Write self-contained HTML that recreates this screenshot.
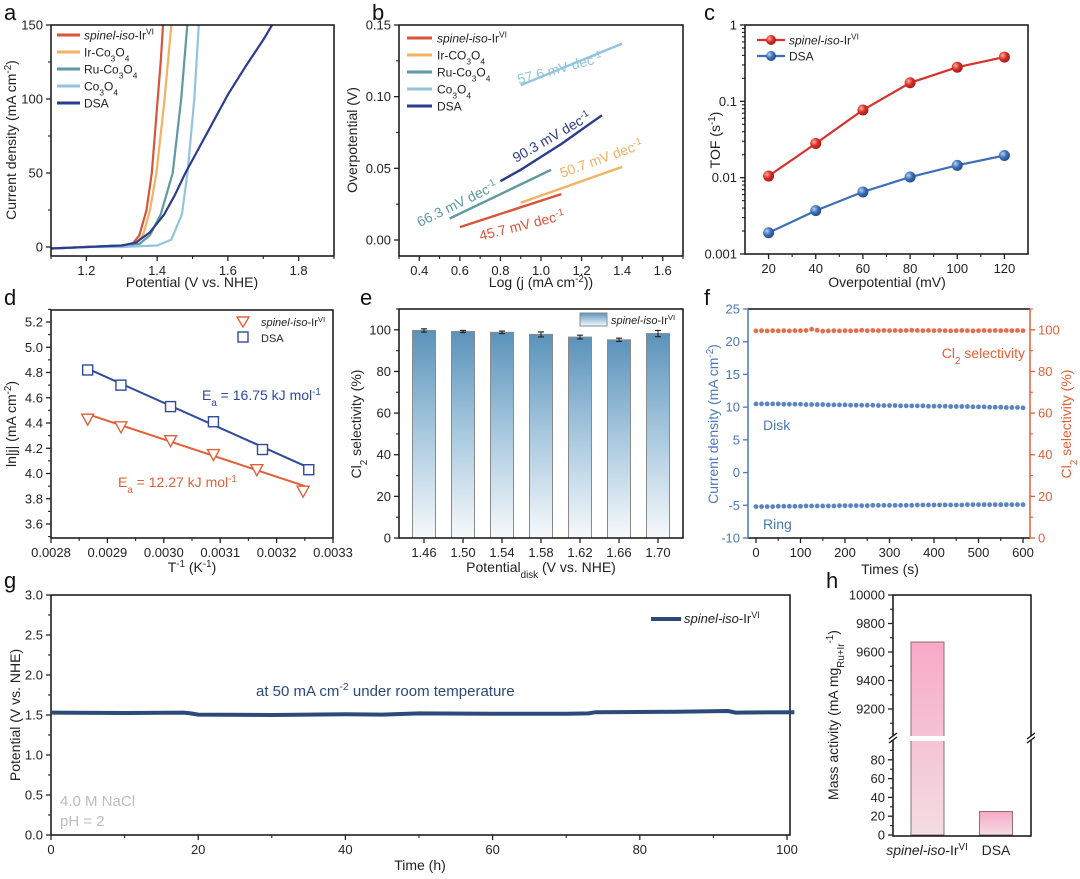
<!DOCTYPE html>
<html><head><meta charset="utf-8"><style>
html,body{margin:0;padding:0;background:#fff}
svg{display:block;font-family:"Liberation Sans",Arial,sans-serif}
</style></head><body>
<svg id="fig" width="1080" height="879" viewBox="0 0 1080 879" xmlns="http://www.w3.org/2000/svg">
<defs>
<clipPath id="clipA"><rect x="51" y="25" width="283" height="231"/></clipPath>
<linearGradient id="gradE" x1="0" y1="0" x2="0" y2="1"><stop offset="0" stop-color="#5b93bb"/><stop offset="0.5" stop-color="#a9c9df"/><stop offset="1" stop-color="#f6f9fc"/></linearGradient>
<linearGradient id="gradH" x1="0" y1="0" x2="0" y2="1"><stop offset="0" stop-color="#f8a9c8"/><stop offset="1" stop-color="#f3dde2"/></linearGradient>
<radialGradient id="ballR" cx="0.35" cy="0.35" r="0.7"><stop offset="0" stop-color="#ffb0a0"/><stop offset="0.5" stop-color="#d8302a"/><stop offset="1" stop-color="#a01a15"/></radialGradient>
<radialGradient id="ballB" cx="0.35" cy="0.35" r="0.7"><stop offset="0" stop-color="#b8d4f4"/><stop offset="0.5" stop-color="#3c6fb8"/><stop offset="1" stop-color="#234a88"/></radialGradient>
</defs>
<g id="pa"></g>
<g id="pb"></g>
<g id="pc"></g>
<g id="pd"></g>
<g id="pe"></g>
<g id="pf"></g>
<g id="pg"></g>
<g id="ph"></g>
<g font-size="22" fill="#111">
<text x="4" y="20">a</text>
<text x="372" y="20">b</text>
<text x="704" y="20">c</text>
<text x="4" y="305">d</text>
<text x="360" y="305">e</text>
<text x="704" y="305">f</text>
<text x="4" y="588">g</text>
<text x="826" y="588">h</text>
</g>
</svg>
<script>
// ---------- DATA ----------
// panel a (LSV)
const aSpinelX=[1.1,1.2,1.3,1.33,1.35,1.37,1.385,1.40,1.41,1.418];
const aSpinelY=[-1,0,1,2,8,25,50,95,125,155];
const aIrX=[1.1,1.2,1.3,1.34,1.36,1.38,1.398,1.421,1.442];
const aIrY=[-1,0,1,2,8,25,50,100,155];
const aRuX=[1.1,1.2,1.3,1.35,1.38,1.41,1.444,1.468,1.487];
const aRuY=[-1,0,1,2,8,22,50,100,155];
const aCoX=[1.1,1.2,1.3,1.4,1.44,1.47,1.486,1.505,1.519];
const aCoY=[-1,0,0,1,5,22,50,100,155];
const aDsaX=[1.1,1.2,1.3,1.34,1.38,1.42,1.45,1.48,1.53,1.6,1.65,1.7,1.73];
const aDsaY=[-1,0,1,3,10,22,35,50,72,103,122,140,152];
// panel b (Tafel)
const bSpinelX=[0.6,1.1], bSpinelY=[0.009,0.032];
const bIrX=[0.9,1.4], bIrY=[0.026,0.051];
const bRuX=[0.55,1.05], bRuY=[0.015,0.049];
const bCoX=[0.9,1.4], bCoY=[0.108,0.137];
const bDsaX=[0.8,0.9,1.0,1.1,1.2,1.3], bDsaY=[0.041,0.049,0.058,0.067,0.077,0.087];
// panel c (TOF)
const cX=[20,40,60,80,100,120];
const cSpinel=[0.0105,0.028,0.077,0.175,0.28,0.38];
const cDsa=[0.0019,0.0037,0.0065,0.0102,0.0145,0.0195];
// panel d (Arrhenius)
const dSpinelX=[0.002865,0.002924,0.003012,0.003088,0.003165,0.003247];
const dSpinelY=[4.43,4.37,4.26,4.15,4.03,3.86];
const dDsaX=[0.002865,0.002924,0.003012,0.003088,0.003175,0.003257];
const dDsaY=[4.82,4.70,4.53,4.41,4.19,4.03];
const dFitSpinelX=[0.002865,0.00325], dFitSpinelY=[4.47,3.90];
const dFitDsaX=[0.002865,0.00326], dFitDsaY=[4.83,4.04];
// panel e (Cl2 selectivity bars)
const eCats=["1.46","1.50","1.54","1.58","1.62","1.66","1.70"];
const eVals=[99.7,99.2,98.8,97.8,96.5,95.2,98.2];
const eErr=[0.8,0.5,0.6,1.2,0.9,0.8,1.5];
// panel f (RRDE stability), one point per 12.5 s
const fDisk=[10.5,10.5,10.5,10.5,10.5,10.45,10.45,10.45,10.45,10.4,10.4,10.4,10.4,10.35,10.35,10.35,10.35,10.3,10.3,10.3,10.3,10.3,10.25,10.25,10.25,10.25,10.2,10.2,10.2,10.2,10.2,10.15,10.15,10.15,10.15,10.1,10.1,10.1,10.1,10.05,10.05,10.05,10.0,10.0,10.0,9.95,9.95,9.95,9.9];
const fRing=[-5.2,-5.2,-5.2,-5.2,-5.15,-5.15,-5.15,-5.15,-5.15,-5.1,-5.1,-5.1,-5.1,-5.1,-5.1,-5.05,-5.05,-5.05,-5.05,-5.05,-5.05,-5.0,-5.0,-5.0,-5.0,-5.0,-5.0,-5.0,-5.0,-4.95,-4.95,-4.95,-4.95,-4.95,-4.95,-4.95,-4.95,-4.95,-4.9,-4.9,-4.9,-4.9,-4.9,-4.9,-4.9,-4.9,-4.9,-4.9,-4.9];
const fSel=[99.5,99.6,99.5,99.6,99.5,99.6,99.5,99.6,99.6,99.7,100.3,99.8,99.4,99.5,99.6,99.5,99.6,99.5,99.6,99.8,99.6,99.7,99.6,99.7,99.6,99.7,99.6,99.7,99.8,99.7,99.6,99.7,99.6,99.7,99.6,99.5,99.6,99.7,99.6,99.5,99.6,99.7,99.6,99.7,99.6,99.7,99.6,99.7,99.6];
// panel g (chronopotentiometry)
const gX=[0,10,18,19,20,30,40,45,50,60,70,73,74,85,92,93,101];
const gY=[1.53,1.525,1.53,1.52,1.505,1.5,1.51,1.505,1.52,1.515,1.515,1.52,1.535,1.54,1.55,1.53,1.535];
// panel h (mass activity)
const hCats=["spinel","DSA"];
const hVals=[9670,25];

// ---------- HELPERS ----------
const NS="http://www.w3.org/2000/svg";
function el(tag,attrs,parent){const e=document.createElementNS(NS,tag);for(const k in attrs)e.setAttribute(k,attrs[k]);parent.appendChild(e);return e;}
function lin(d0,d1,r0,r1){return v=>r0+(v-d0)*(r1-r0)/(d1-d0);}
function logs(d0,d1,r0,r1){const a=Math.log10(d0),b=Math.log10(d1);return v=>r0+(Math.log10(v)-a)*(r1-r0)/(b-a);}
function pathD(xs,ys,sx,sy){return xs.map((x,i)=>(i?'L':'M')+sx(x).toFixed(1)+','+sy(ys[i]).toFixed(1)).join(' ');}
function txt(parent,x,y,html,attrs){const e=el('text',Object.assign({x:x,y:y},attrs||{}),parent);e.innerHTML=html;return e;}
function frame(g,x0,y0,x1,y1,color){
  const r=el('rect',{x:x0,y:y0,width:x1-x0,height:y1-y0,fill:'none',stroke:color||'#111','stroke-width':1.5},g);
  
  
}
function axisX(g,sc,y,ticks,labels,minors,color){
  color=color||'#222';
  ticks.forEach((t,i)=>{
    const l=el('line',{x1:sc(t),x2:sc(t),y1:y,y2:y+5,stroke:color,'stroke-width':1.3},g);
    
    
    const tx=txt(g,sc(t),y+19,labels[i],{'text-anchor':'middle','font-size':13,fill:color});
    
    
  });
  minors.forEach(t=>{
    const l=el('line',{x1:sc(t),x2:sc(t),y1:y,y2:y+3,stroke:color,'stroke-width':1.1},g);
    
    
  });
}
function axisY(g,sc,x,ticks,labels,minors,side,color){
  color=color||'#222';side=side||-1;
  ticks.forEach((t,i)=>{
    const l=el('line',{x1:x,x2:x+5*side,y1:sc(t),y2:sc(t),stroke:color,'stroke-width':1.3},g);
    
    
    const tx=txt(g,x+8*side,sc(t)+4.5,labels[i],{'text-anchor':side<0?'end':'start','font-size':13,fill:color});
    
    
  });
  minors.forEach(t=>{
    const l=el('line',{x1:x,x2:x+3*side,y1:sc(t),y2:sc(t),stroke:color,'stroke-width':1.1},g);
    
    
  });
}
function title(g,x,y,html,rot,size,color){
  const t=txt(g,x,y,html,{'text-anchor':'middle','font-size':size||14,fill:color||'#222',transform:rot?`rotate(-90 ${x} ${y})`:''});
  
  
  return t;
}
function rng(a,b,s){const r=[];for(let v=a;v<=b+1e-9;v+=s)r.push(+v.toFixed(6));return r;}
const SUP=s=>`<tspan baseline-shift="super" font-size="70%">${s}</tspan>`;
const SUB=s=>`<tspan baseline-shift="sub" font-size="70%">${s}</tspan>`;
const SPIN=`<tspan font-style="italic">spinel-iso</tspan>-Ir${SUP('VI')}`;
const CO34=`Co${SUB('3')}O${SUB('4')}`;

// ---------- PANEL A ----------
(function(){
  const g=document.getElementById('pa');
  const sx=lin(1.1,1.9,51,334), sy=lin(0,150,247,25);
  const cg=el('g',{'clip-path':'url(#clipA)'},g);
  const series=[[aSpinelX,aSpinelY,'#d9553a','curve-spinel'],[aIrX,aIrY,'#f2b163','curve-ir-co3o4'],[aRuX,aRuY,'#5e9aa0','curve-ru-co3o4'],[aCoX,aCoY,'#93c3de','curve-co3o4'],[aDsaX,aDsaY,'#2c3c8c','curve-dsa']];
  series.forEach(s=>{
    const p=el('path',{d:pathD(s[0],s[1],sx,sy),fill:'none',stroke:s[2],'stroke-width':2.2,'stroke-linejoin':'round'},cg);
    
    
  });
  frame(g,51,25,334,256);
  axisX(g,sx,256,[1.2,1.4,1.6,1.8],['1.2','1.4','1.6','1.8'],[1.1,1.3,1.5,1.7,1.9]);
  axisY(g,sy,51,[0,50,100,150],['0','50','100','150'],[25,75,125]);
  title(g,192,287,'Potential (V vs. NHE)');
  title(g,16,140,`Current density (mA cm${SUP('-2')})`,true);
  const labs=[SPIN,`Ir-${CO34}`,`Ru-${CO34}`,CO34,'DSA'];
  series.forEach((s,i)=>{
    const y=35+17*i;
    const l=el('line',{x1:57,x2:80,y1:y,y2:y,stroke:s[2],'stroke-width':3},g);
    
    
    const t=txt(g,84,y+4.5,labs[i],{'font-size':12,fill:'#222'});
    
    
  });
})();

// ---------- PANEL B ----------
(function(){
  const g=document.getElementById('pb');
  const sx=lin(0.3,1.7,399,683), sy=lin(0,0.15,240,25);
  const series=[[bSpinelX,bSpinelY,'#d9553a','line-spinel'],[bIrX,bIrY,'#f2b163','line-ir-co3o4'],[bRuX,bRuY,'#5e9aa0','line-ru-co3o4'],[bCoX,bCoY,'#93c3de','line-co3o4'],[bDsaX,bDsaY,'#2c3c8c','line-dsa']];
  series.forEach(s=>{
    const p=el('path',{d:pathD(s[0],s[1],sx,sy),fill:'none',stroke:s[2],'stroke-width':2.4},g);
    
    
  });
  frame(g,399,25,683,256);
  axisX(g,sx,256,rng(0.4,1.6,0.2),['0.4','0.6','0.8','1.0','1.2','1.4','1.6'],rng(0.3,1.7,0.2));
  axisY(g,sy,399,[0,0.05,0.1,0.15],['0.00','0.05','0.10','0.15'],[0.025,0.075,0.125]);
  title(g,541,287,`Log (j (mA cm${SUP('-2')}))`);
  title(g,357,140,'Overpotential (V)',true);
  const labs=[SPIN,`Ir-CO${SUB('3')}O${SUB('4')}`,`Ru-${CO34}`,CO34,'DSA'];
  series.forEach((s,i)=>{
    const y=38+17*i;
    const l=el('line',{x1:407,x2:432,y1:y,y2:y,stroke:s[2],'stroke-width':3},g);
    
    
    const t=txt(g,437,y+4.5,labs[i],{'font-size':12,fill:'#222'});
    
    
  });
  const notes=[['57.6',561,73,-15,'#93c3de'],['90.3',554,141,-30,'#2c3c8c'],['50.7',603,163,-20,'#f2b163'],['66.3',459,208,-26,'#5e9aa0'],['45.7',523,230,-14,'#d9553a']];
  notes.forEach(n=>{
    const t=txt(g,n[1],n[2],`${n[0]} mV dec${SUP('-1')}`,{'text-anchor':'middle','font-size':14,fill:n[4],transform:`rotate(${n[3]} ${n[1]} ${n[2]})`});
    
    
  });
})();

// ---------- PANEL C ----------
(function(){
  const g=document.getElementById('pc');
  const sx=lin(10,130,745,1028), sy=logs(0.001,1,254,25);
  frame(g,745,25,1028,254);
  const minorsY=[];[0.001,0.01,0.1].forEach(d=>{for(let k=2;k<=9;k++)minorsY.push(d*k);});
  axisY(g,sy,745,[0.001,0.01,0.1,1],['0.001','0.01','0.1','1'],minorsY);
  axisX(g,sx,254,cX,cX.map(String),[30,50,70,90,110]);
  title(g,887,287,'Overpotential (mV)');
  title(g,720,140,`TOF (s${SUP('-1')})`,true);
  [[cSpinel,'#d8302a','url(#ballR)','spinel'],[cDsa,'#3c6fb8','url(#ballB)','dsa']].forEach(s=>{
    const p=el('path',{d:pathD(cX,s[0],sx,sy),fill:'none',stroke:s[1],'stroke-width':2.2},g);
    
    
    s[0].forEach((v,i)=>{
      const c=el('circle',{cx:sx(cX[i]),cy:sy(v),r:5.5,fill:s[2]},g);
      
      
    });
  });
  [[SPIN,'#d8302a','url(#ballR)',40],['DSA','#3c6fb8','url(#ballB)',56]].forEach(s=>{
    const l=el('line',{x1:757,x2:785,y1:s[3],y2:s[3],stroke:s[1],'stroke-width':2.2},g);
    
    
    const c=el('circle',{cx:771,cy:s[3],r:5,fill:s[2]},g);
    
    
    const t=txt(g,789,s[3]+4.5,s[0],{'font-size':12,fill:'#222'});
    
    
  });
})();

// ---------- PANEL D ----------
(function(){
  const g=document.getElementById('pd');
  const sx=lin(0.0028,0.0033,51,333), sy=lin(3.6,5.2,524,322);
  frame(g,51,310,333,538);
  axisX(g,sx,538,rng(0.0028,0.0033,0.0001),['0.0028','0.0029','0.0030','0.0031','0.0032','0.0033'],rng(0.00285,0.00325,0.0001));
  axisY(g,sy,51,rng(3.6,5.2,0.2),['3.6','3.8','4.0','4.2','4.4','4.6','4.8','5.0','5.2'],rng(3.5,5.3,0.2));
  title(g,192,572,`T${SUP('-1')} (K${SUP('-1')})`);
  title(g,16,424,`ln|j| (mA cm${SUP('-2')})`,true);
  const pb=el('path',{d:pathD(dFitDsaX,dFitDsaY,sx,sy),stroke:'#2f4a9a','stroke-width':2,fill:'none'},g);
  
  
  const pr=el('path',{d:pathD(dFitSpinelX,dFitSpinelY,sx,sy),stroke:'#e0603a','stroke-width':2,fill:'none'},g);
  
  
  dDsaX.forEach((x,i)=>{
    const r=el('rect',{x:sx(x)-5,y:sy(dDsaY[i])-5,width:10,height:10,fill:'#fff',stroke:'#2f4a9a','stroke-width':1.4},g);
    
    
  });
  dSpinelX.forEach((x,i)=>{
    const cx=sx(x),cy=sy(dSpinelY[i]);
    const p=el('path',{d:`M${cx-6},${cy-5}L${cx+6},${cy-5}L${cx},${cy+6}Z`,fill:'#fff',stroke:'#e0603a','stroke-width':1.4},g);
    
    
  });
  const lt=el('path',{d:'M237,317L249,317L243,327Z',fill:'#fff',stroke:'#e0603a','stroke-width':1.4},g);
  
  
  const ls=el('rect',{x:238,y:332,width:10,height:10,fill:'#fff',stroke:'#2f4a9a','stroke-width':1.4},g);
  
  
  const t1=txt(g,261,326,SPIN,{'font-size':11,fill:'#222'});
  
  
  const t2=txt(g,261,342,'DSA',{'font-size':11,fill:'#222'});
  
  
  const e1=txt(g,202,400,`E${SUB('a')} = 16.75 kJ mol${SUP('-1')}`,{'font-size':14,fill:'#2f4a9a'});
  
  
  const e2=txt(g,118,487,`E${SUB('a')} = 12.27 kJ mol${SUP('-1')}`,{'font-size':14,fill:'#e0603a'});
  
  
})();

// ---------- PANEL E ----------
(function(){
  const g=document.getElementById('pe');
  const sx=lin(0,6,424,658), sy=lin(0,110,538,309);
  eVals.forEach((v,i)=>{
    const r=el('rect',{x:sx(i)-11.5,y:sy(v),width:23,height:sy(0)-sy(v),fill:'url(#gradE)',stroke:'#8a8a8a','stroke-width':1},g);
    
    
    const x=sx(i),y1=sy(v+eErr[i]),y2=sy(v-eErr[i]);
    const eb=el('path',{d:`M${x},${y1}L${x},${y2}M${x-3},${y1}L${x+3},${y1}M${x-3},${y2}L${x+3},${y2}`,stroke:'#222','stroke-width':1.1,fill:'none'},g);
    
    
  });
  frame(g,399,309,683,538);
  axisX(g,sx,538,[0,1,2,3,4,5,6],eCats,[]);
  axisY(g,sy,399,rng(0,100,20),['0','20','40','60','80','100'],[10,30,50,70,90,110]);
  title(g,541,572,`Potential${SUB('disk')} (V vs. NHE)`);
  title(g,361,424,`Cl${SUB('2')} selectivity (%)`,true);
  const lr=el('rect',{x:580,y:313,width:27,height:13,fill:'url(#gradE)',stroke:'#8a8a8a'},g);
  
  
  const lt=txt(g,611,324,SPIN,{'font-size':11,fill:'#222'});
  
  
})();

// ---------- PANEL F ----------
(function(){
  const g=document.getElementById('pf');
  const sx=lin(0,600,756,1023), syL=lin(-10,25,538,309), syR=lin(0,110,538,309);
  const blue='#4a78b8', red='#e0603a';
  const top=el('line',{x1:748,x2:1030,y1:309,y2:309,stroke:'#111','stroke-width':1.5},g);
  
  
  const bot=el('line',{x1:748,x2:1030,y1:538,y2:538,stroke:'#111','stroke-width':1.5},g);
  
  
  const lsp=el('line',{x1:748,x2:748,y1:309,y2:538,stroke:blue,'stroke-width':1.5},g);
  
  
  const rsp=el('line',{x1:1030,x2:1030,y1:309,y2:538,stroke:red,'stroke-width':1.5},g);
  
  
  axisX(g,sx,538,rng(0,600,100),['0','100','200','300','400','500','600'],rng(50,550,100));
  axisY(g,syL,748,rng(-10,25,5),['-10','-5','0','5','10','15','20','25'],[],-1,blue);
  axisY(g,syR,1030,rng(0,100,20),['0','20','40','60','80','100'],rng(10,110,20),1,red);
  title(g,890,574,'Times (s)');
  title(g,718,424,`Current density (mA cm${SUP('-2')})`,true,14,blue);
  title(g,1071,424,`Cl${SUB('2')} selectivity (%)`,true,14,red);
  [[fDisk,syL,blue,'point-disk'],[fRing,syL,blue,'point-ring'],[fSel,syR,red,'point-selectivity']].forEach(s=>{
    s[0].forEach((v,i)=>{
      const c=el('circle',{cx:sx(i*12.5),cy:s[1](v),r:2.6,fill:s[2],stroke:'#fff','stroke-width':0.4,opacity:0.9},g);
      
      
    });
  });
  const d=txt(g,763,430,'Disk',{'font-size':14,fill:blue});
  
  
  const r=txt(g,763,529,'Ring',{'font-size':14,fill:blue});
  
  
  const c=txt(g,1025,358,`Cl${SUB('2')} selectivity`,{'font-size':14,fill:red,'text-anchor':'end'});
  
  
})();

// ---------- PANEL G ----------
(function(){
  const g=document.getElementById('pg');
  const sx=lin(0,100,51,787), sy=lin(0,3,835,595);
  frame(g,51,595,790,835);
  axisX(g,sx,835,rng(0,100,20),['0','20','40','60','80','100'],rng(10,90,20));
  axisY(g,sy,51,rng(0,3,0.5),['0.0','0.5','1.0','1.5','2.0','2.5','3.0'],rng(0.25,2.75,0.5));
  title(g,420,870,'Time (h)');
  title(g,20,715,'Potential (V vs. NHE)',true);
  const p=el('path',{d:pathD(gX,gY,sx,sy),fill:'none',stroke:'#2b4a78','stroke-width':4},g);
  
  
  const t=txt(g,256,696,`at 50 mA cm${SUP('-2')} under room temperature`,{'font-size':15,fill:'#2b4a78'});
  
  
  const l=el('line',{x1:651,x2:681,y1:619,y2:619,stroke:'#2b4a78','stroke-width':4},g);
  
  
  const lt=txt(g,684,623,SPIN,{'font-size':13,fill:'#222'});
  
  
  const n1=txt(g,60,806,'4.0 M NaCl',{'font-size':15,fill:'#bdbdbd'});
  
  
  const n2=txt(g,60,826,'pH = 2',{'font-size':15,fill:'#bdbdbd'});
  
  
})();

// ---------- PANEL H ----------
(function(){
  const g=document.getElementById('ph');
  const syU=lin(9000,10000,737.5,595), syL=lin(0,100,835,741);
  const centers=[927.5,996];
  hVals.forEach((v,i)=>{
    const top=v>100?syU(v):syL(v);
    const r=el('rect',{x:centers[i]-16.5,y:top,width:33,height:835-top,fill:'url(#gradH)',stroke:'#8a7070','stroke-width':1},g);
    
    
  });
  const gap=el('rect',{x:905,y:736,width:50,height:5,fill:'#fff'},g);
  
  
  frame(g,893,595,1031,836);
  const gp=el('rect',{x:889,y:736.5,width:146,height:4,fill:'#fff'},g);
  
  
  const bm=el('path',{d:'M889,739L897,733M889,743L897,737M1027,739L1035,733M1027,743L1035,737',stroke:'#111','stroke-width':1.3,fill:'none'},g);
  
  
  axisY(g,syU,893,rng(9200,10000,200),['9200','9400','9600','9800','10000'],rng(9100,9900,200));
  axisY(g,syL,893,rng(0,80,20),['0','20','40','60','80'],rng(10,90,20));
  const t1=txt(g,927,855,SPIN,{'font-size':14,fill:'#222','text-anchor':'middle'});
  
  
  const t2=txt(g,996,855,'DSA',{'font-size':14,fill:'#222','text-anchor':'middle'});
  
  
  title(g,838,715,`Mass activity (mA mg${SUB('Ru+Ir')}${SUP('-1')})`,true);
})();
</script>
</body></html>
